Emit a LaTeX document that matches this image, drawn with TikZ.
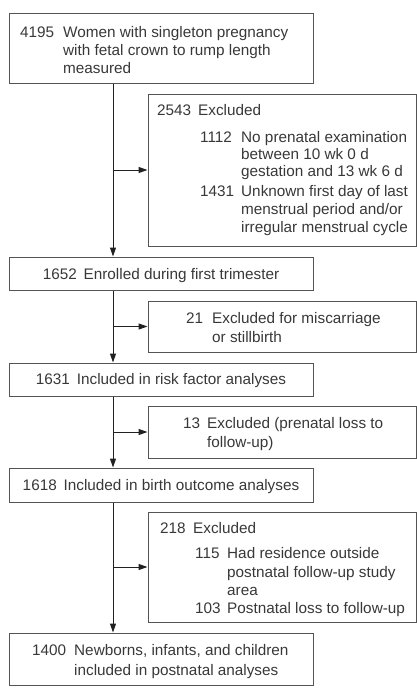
\documentclass[tikz,border=0pt]{standalone}
\usepackage{fontspec}
\setmainfont{Liberation Sans}
\usetikzlibrary{arrows.meta}
\definecolor{txt}{rgb}{0.22,0.22,0.22}
\definecolor{boxc}{rgb}{0.33,0.33,0.33}
\definecolor{linec}{rgb}{0.13,0.13,0.13}
\newcommand{\gp}{\hspace{0.45em}}
\begin{document}
\begin{tikzpicture}[x=1pt,y=-1pt,
  box/.style={draw=boxc,line width=1pt,inner sep=0pt},
  tl/.style={anchor=base west,inner sep=0pt,text=txt,font=\fontsize{15.3}{17.8}\selectfont},
  tc/.style={anchor=base,inner sep=0pt,text=txt,font=\fontsize{15.3}{17.8}\selectfont},
  arr/.style={draw=linec,line width=1pt,-{Triangle[length=9pt,width=6pt]}}]
\useasboundingbox (0,0) rectangle (417,694);
% boxes
\node[box,minimum width=304pt,minimum height=70pt] (b1) at (161,48) {};
\node[box,minimum width=268.5pt,minimum height=152pt] (x1) at (282.25,170) {};
\node[box,minimum width=304pt,minimum height=33pt] (b2) at (161,273.5) {};
\node[box,minimum width=268.5pt,minimum height=51pt] (x2) at (282.25,326.5) {};
\node[box,minimum width=304pt,minimum height=33pt] (b3) at (161,379.5) {};
\node[box,minimum width=268.5pt,minimum height=52pt] (x3) at (282.25,432) {};
\node[box,minimum width=304pt,minimum height=34pt] (b4) at (161,485) {};
\node[box,minimum width=268.5pt,minimum height=110pt] (x4) at (282.25,567) {};
\node[box,minimum width=304pt,minimum height=52pt] (b5) at (161,659) {};
% spine
\coordinate (sp) at (113,0);
\draw[arr] (b1.south -| sp) -- (b2.north -| sp);
\draw[arr] (b2.south -| sp) -- (b3.north -| sp);
\draw[arr] (b3.south -| sp) -- (b4.north -| sp);
\draw[arr] (b4.south -| sp) -- (b5.north -| sp);
\draw[arr] (x1.west -| sp) -- (x1.west);
\draw[arr] (x2.west -| sp) -- (x2.west);
\draw[arr] (x3.west -| sp) -- (x3.west);
\draw[arr] (x4.west -| sp) -- (x4.west);
% texts: box 1
\node[tl] (n1) at (20,37) {4195};
\node[tl] (t1a) at (63,37) {Women with singleton pregnancy};
\node[tl] (t1b) at (63,55) {with fetal crown to rump length};
\node[tl] (t1c) at (63,73) {measured};
% excluded 1
\node[tl] (nx1) at (157,115) {2543};
\node[tl] (tx1) at (198,115) {Excluded};
\node[tl] (nx1a) at (200,142) {1112};
\node[tl] (tx1a) at (241,142) {No prenatal examination};
\node[tl] (tx1b) at (241,159) {between 10 wk 0 d};
\node[tl] (tx1c) at (241,176) {gestation and 13 wk 6 d};
\node[tl] (nx1b) at (200,196) {1431};
\node[tl] (tx1d) at (241,196) {Unknown first day of last};
\node[tl] (tx1e) at (241,214) {menstrual period and/or};
\node[tl] (tx1f) at (241,232) {irregular menstrual cycle};
% box 2
\node[tc] (t2) at (161,279) {1652\gp Enrolled during first trimester};
% excluded 2
\node[tl] (nx2) at (186,323) {21};
\node[tl] (tx2a) at (212,323) {Excluded for miscarriage};
\node[tl] (tx2b) at (212,342) {or stillbirth};
% box 3
\node[tc] (t3) at (161,384.5) {1631\gp Included in risk factor analyses};
% excluded 3
\node[tl] (nx3) at (183,428) {13};
\node[tl] (tx3a) at (207,428) {Excluded (prenatal loss to};
\node[tl] (tx3b) at (207,447) {follow-up)};
% box 4
\node[tc] (t4) at (161,490) {1618\gp Included in birth outcome analyses};
% excluded 4
\node[tl] (nx4) at (160,533) {218};
\node[tl] (tx4) at (193,533) {Excluded};
\node[tl] (nx4a) at (195,558) {115};
\node[tl] (tx4a) at (227,558) {Had residence outside};
\node[tl] (tx4b) at (227,577) {postnatal follow-up study};
\node[tl] (tx4c) at (227,595) {area};
\node[tl] (nx4b) at (195,613) {103};
\node[tl] (tx4d) at (227,613) {Postnatal loss to follow-up};
% box 5
\node[tl] (n5) at (32,655) {1400};
\node[tl] (t5a) at (74,655) {Newborns, infants, and children};
\node[tl] (t5b) at (74,675) {included in postnatal analyses};
\end{tikzpicture}
\end{document}
